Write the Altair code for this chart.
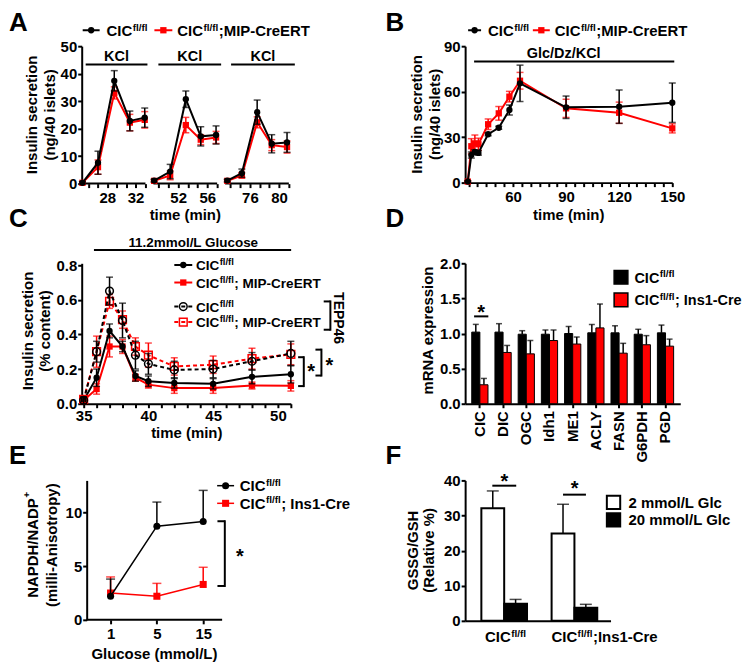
import altair as alt
import pandas as pd

FONT = "Liberation Sans"
RED = "#ff0000"
BLK = "#000000"

# ---------------- Data ----------------
# Panel A: KCl pulses, three time windows (time in min, insulin ng/40 islets)
a_time_1 = [24.5, 26.7, 29.0, 31.2, 33.3]
a_time_2 = [48.7, 50.9, 53.05, 55.1, 57.2]
a_time_3 = [72.9, 74.9, 77.0, 79.0, 81.1]
a_window_start = [24.4, 48.6, 72.6]
a_window_end = [33.4, 57.35, 81.35]
a_ctrl_1 = [0.3, 7.6, 37.4, 22.8, 24.0]
a_ctrl_2 = [1.1, 4.4, 30.7, 17.2, 17.7]
a_ctrl_3 = [1.1, 3.8, 26.0, 14.5, 15.0]
a_ctrl_sem_1 = [0.4, 4.2, 3.7, 3.6, 3.5]
a_ctrl_sem_2 = [0.5, 2.6, 3.0, 3.5, 3.3]
a_ctrl_sem_3 = [0.5, 1.5, 4.4, 3.3, 3.6]
a_ko_1 = [0.3, 6.0, 33.0, 22.2, 23.2]
a_ko_2 = [1.0, 3.0, 21.3, 16.0, 16.8]
a_ko_3 = [1.0, 3.0, 22.3, 14.0, 13.3]
a_ko_sem_1 = [0.4, 2.6, 2.2, 3.0, 3.0]
a_ko_sem_2 = [0.4, 1.6, 2.8, 1.8, 2.2]
a_ko_sem_3 = [0.4, 1.0, 2.0, 2.0, 2.2]
a_ticks = [25.33, 26.67, 28, 29.33, 30.67, 32, 33.33,
           49.33, 50.67, 52, 53.33, 54.67, 56, 57.33,
           73.33, 74.67, 76, 77.33, 78.67, 80, 81.33]
a_tick_labels = [28, 32, 52, 56, 76, 80]
a_yticks = [0, 10, 20, 30, 40, 50]

# Panel B: Glc/Dz/KCl
b_time = [34.5, 36.5, 38.5, 40.5, 46, 52, 58, 64, 90, 120, 150]
b_ctrl = [0.7, 18.2, 20.2, 19.6, 31.9, 36.2, 47.9, 65.5, 49.7, 50.1, 52.7]
b_ctrl_sem = [0.5, 2.0, 1.5, 1.5, 1.0, 1.0, 3.3, 12.0, 7.4, 11.0, 13.0]
b_ko = [0.7, 24.0, 25.9, 25.3, 38.5, 45.7, 56.7, 67.2, 49.0, 46.1, 35.8]
b_ko_sem = [0.5, 5.0, 5.5, 4.0, 3.5, 4.5, 3.5, 5.5, 6.0, 7.0, 3.0]
b_ticks = list(range(35, 151, 5))
b_yticks = [0, 30, 60, 90]

# Panel C: 11.2 mmol/L glucose, +/- TEPP46 (% content)
c_time = [35, 36, 37, 38, 39, 40, 42, 45, 48, 51]
c_ctrl = [0.02, 0.15, 0.42, 0.33, 0.16, 0.13, 0.12, 0.115, 0.155, 0.17]
c_ctrl_sem = [0.02, 0.05, 0.04, 0.03, 0.03, 0.03, 0.03, 0.03, 0.04, 0.05]
c_ko = [0.02, 0.085, 0.33, 0.33, 0.15, 0.11, 0.09, 0.09, 0.105, 0.103]
c_ko_sem = [0.02, 0.03, 0.06, 0.04, 0.02, 0.02, 0.03, 0.03, 0.02, 0.03]
c_ctrl_tepp = [0.02, 0.30, 0.65, 0.48, 0.28, 0.23, 0.195, 0.20, 0.245, 0.29]
c_ctrl_tepp_sem = [0.02, 0.06, 0.08, 0.10, 0.08, 0.06, 0.05, 0.05, 0.05, 0.07]
c_ko_tepp = [0.025, 0.30, 0.59, 0.485, 0.33, 0.28, 0.215, 0.225, 0.26, 0.285]
c_ko_tepp_sem = [0.02, 0.09, 0.04, 0.05, 0.05, 0.07, 0.05, 0.05, 0.06, 0.06]
c_ticks = list(range(35, 52, 1))
c_yticks = [0, 0.2, 0.4, 0.6, 0.8]

# Panel D: mRNA expression
d_genes = ["CIC", "DIC", "OGC", "Idh1", "ME1", "ACLY", "FASN", "G6PDH", "PGD"]
d_ctrl = [1.02, 1.02, 0.99, 0.99, 1.00, 1.01, 1.01, 0.99, 1.01]
d_ctrl_sem = [0.11, 0.12, 0.05, 0.06, 0.10, 0.12, 0.10, 0.07, 0.11]
d_ko = [0.27, 0.73, 0.71, 0.90, 0.85, 1.08, 0.72, 0.84, 0.82]
d_ko_sem = [0.09, 0.10, 0.19, 0.15, 0.10, 0.34, 0.14, 0.13, 0.10]
d_yticks = [0, 0.5, 1.0, 1.5, 2.0]

# Panel E: NADPH/NADP+
e_glucose = ["1", "5", "15"]
e_ctrl = [2.2, 8.73, 9.17]
e_ctrl_sem = [1.6, 2.25, 2.9]
e_ko = [2.5, 2.2, 3.3]
e_ko_sem = [1.5, 1.2, 1.6]
e_yticks = [0, 5, 10]

# Panel F: GSSG/GSH
f_genotypes = ["ctrl", "ko"]
f_glucose = ["2 mmol/L Glc", "20 mmol/L Glc"]
f_low = [32.1, 24.9]
f_low_sem = [4.9, 8.3]
f_high = [4.9, 3.7]
f_high_sem = [1.2, 1.0]
f_yticks = [0, 10, 20, 30, 40]

# ---------------- helpers ----------------
DUMMY = pd.DataFrame({"d": [0]})
AW = {" ": 278, "(": 333, ")": 333, "+": 584, "-": 333, ".": 278, "/": 278, ";": 333, "%": 889,
      "A": 722, "C": 722, "D": 722, "E": 667, "G": 778, "H": 722, "I": 278, "K": 722, "L": 611,
      "M": 833, "N": 722, "P": 667, "R": 722, "S": 667, "T": 611,
      "a": 556, "c": 556, "e": 556, "f": 333, "i": 278, "l": 278, "m": 889, "n": 611, "o": 611,
      "r": 389, "s": 556, "t": 333, "u": 611, "v": 556, "y": 556, "p": 611}


def tw(s, size):
    return sum(AW.get(ch, 556) for ch in s) * size / 1000.0


def T(text, x, y, size=15, align="left", baseline="alphabetic", angle=0, color=BLK):
    return alt.Chart(DUMMY).mark_text(
        text=text, font=FONT, fontSize=size, fontWeight="bold", align=align,
        baseline=baseline, angle=angle, color=color
    ).encode(x=alt.value(x), y=alt.value(y))


def HR(x1, x2, y, w=2, color=BLK, dash=None):
    kw = dict(color=color, strokeWidth=w)
    if dash:
        kw["strokeDash"] = dash
    return alt.Chart(DUMMY).mark_rule(**kw).encode(x=alt.value(x1), x2=alt.value(x2), y=alt.value(y))


def VR(x, y1, y2, w=2, color=BLK):
    return alt.Chart(DUMMY).mark_rule(color=color, strokeWidth=w).encode(
        x=alt.value(x), y=alt.value(y1), y2=alt.value(y2))


def SYM(x, y, shape, color, filled=True, size=40):
    return alt.Chart(DUMMY).mark_point(
        shape=shape, filled=filled, size=size, color=color, opacity=1, strokeWidth=1.5
    ).encode(x=alt.value(x), y=alt.value(y))


def BOX(x, y, fill, size=190, sw=1.5):
    return alt.Chart(DUMMY).mark_square(
        size=size, fill=fill, stroke=BLK, strokeWidth=sw, opacity=1
    ).encode(x=alt.value(x), y=alt.value(y))


def STAR(cx, cy, size=20):
    return T("*", cx, cy + 0.55 * size, size=size, align="center")


def parts(x, yb, items, size=15, sup=10, rise=5.5):
    out = []
    cx = x
    for txt, is_sup in items:
        fs = sup if is_sup else size
        out.append(T(txt, cx, yb - rise if is_sup else yb, size=fs))
        cx += tw(txt, fs) + 0.4
    return out


def bracket_left(x, y1, y2, xl):
    return [VR(x, y1 - 1, y2 + 1), HR(xl, x, y1), HR(xl, x, y2)]


def mkdf(t, v, e):
    return pd.DataFrame({"t": t, "v": v,
                         "lo": [a - b for a, b in zip(v, e)],
                         "hi": [a + b for a, b in zip(v, e)]})


def series(df, X, Y, color, shape, filled=True, size=40, dash=None, cap=7,
           updown=True, lw=2, detail=None):
    b = alt.Chart(df)
    out = [b.mark_rule(color=color, strokeWidth=1.5).encode(
        x=X("t"), y=Y("lo" if updown else "v"), y2="hi:Q"),
        b.mark_tick(orient="horizontal", color=color, size=cap, thickness=1.5).encode(
            x=X("t"), y=Y("hi"))]
    if updown:
        out.append(b.mark_tick(orient="horizontal", color=color, size=cap, thickness=1.5).encode(
            x=X("t"), y=Y("lo")))
    lk = dict(color=color, strokeWidth=lw)
    if dash:
        lk["strokeDash"] = dash
    enc = dict(x=X("t"), y=Y("v"))
    if detail:
        enc["detail"] = detail
    out.append(b.mark_line(**lk).encode(**enc))
    out.append(b.mark_point(shape=shape, filled=filled, size=size, color=color,
                            opacity=1, strokeWidth=1.5).encode(x=X("t"), y=Y("v")))
    return out


CIC = [("CIC", False), ("fl/fl", True)]
TS = 15  # axis title size

# ---------------- Panel A ----------------
AWID, AHT = 208, 138
a_pieces = [v for s, e in zip(a_window_start, a_window_end) for v in (s, e)]
a_xscale = alt.Scale(domain=a_pieces, range=[0, 64, 72, 136, 144, 208], nice=False, zero=False)
A_LBL = "indexof(" + str(a_tick_labels) + ", datum.value) >= 0 ? '' + datum.value : ''"


def AX(f):
    return alt.X(f"{f}:Q", scale=a_xscale,
                 axis=alt.Axis(values=a_ticks, labelExpr=A_LBL, domain=False, title=None))


def AY(f):
    return alt.Y(f"{f}:Q", scale=alt.Scale(domain=[0, 50], nice=False),
                 axis=alt.Axis(values=a_yticks, title=None))


dfA_ctrl = pd.concat([
    mkdf(a_time_1, a_ctrl_1, a_ctrl_sem_1).assign(seg=1),
    mkdf(a_time_2, a_ctrl_2, a_ctrl_sem_2).assign(seg=2),
    mkdf(a_time_3, a_ctrl_3, a_ctrl_sem_3).assign(seg=3)])
dfA_ko = pd.concat([
    mkdf(a_time_1, a_ko_1, a_ko_sem_1).assign(seg=1),
    mkdf(a_time_2, a_ko_2, a_ko_sem_2).assign(seg=2),
    mkdf(a_time_3, a_ko_3, a_ko_sem_3).assign(seg=3)])
dfA_win = pd.DataFrame({"s": a_window_start, "e": a_window_end})

a_layers = [
    alt.Chart(DUMMY).mark_square(size=1, opacity=0).encode(x=alt.value(-73.5), y=alt.value(-36.5)),
    T("A", -73, -15, size=26),
    alt.Chart(dfA_win).mark_rule(color=BLK, strokeWidth=2).encode(x=AX("s"), x2="e:Q", y=alt.value(AHT)),
    HR(1, 18, -16), SYM(9.5, -16, "circle", BLK),
    *parts(25, -10, CIC),
    HR(73, 91, -16, color=RED), SYM(82, -16, "square", RED),
    *parts(96, -10, CIC + [(";MIP-CreERT", False)]),
    HR(4, 66, 18.3), HR(77, 140, 18.3), HR(150, 214, 18.3),
    T("KCl", 35, 15, size=14.5, align="center"),
    T("KCl", 108.5, 15, size=14.5, align="center"),
    T("KCl", 182, 15, size=14.5, align="center"),
    *series(dfA_ko, AX, AY, RED, "square", detail="seg:N"),
    *series(dfA_ctrl, AX, AY, BLK, "circle", detail="seg:N"),
    T("Insulin secretion", -50, 69, size=TS, align="center", baseline="middle", angle=270),
    T("(ng/40 islets)", -32, 69, size=TS, align="center", baseline="middle", angle=270),
    T("time (min)", 104, 175, size=TS, align="center"),
]
A = alt.layer(*a_layers).properties(width=AWID, height=AHT)

# ---------------- Panel B ----------------
BWID, BHT = 208, 137
B_LBL = "datum.value % 30 == 0 ? datum.label : ''"


def BX(f):
    return alt.X(f"{f}:Q", scale=alt.Scale(domain=[33, 150], nice=False, zero=False),
                 axis=alt.Axis(values=b_ticks, labelExpr=B_LBL, title=None))


def BY(f):
    return alt.Y(f"{f}:Q", scale=alt.Scale(domain=[0, 90], nice=False),
                 axis=alt.Axis(values=b_yticks, title=None))


dfB_ctrl = mkdf(b_time, b_ctrl, b_ctrl_sem)
dfB_ko = mkdf(b_time, b_ko, b_ko_sem)
b_layers = [
    T("B", -80, -15, size=26),
    HR(3, 16, -16), SYM(9.5, -16, "circle", BLK),
    *parts(23, -10, CIC),
    HR(68, 85, -16, color=RED), SYM(76.5, -16, "square", RED),
    *parts(90, -10, CIC + [(";MIP-CreERT", False)]),
    HR(9, 210, 15.3),
    T("Glc/Dz/KCl", 99, 12, size=14.5, align="center"),
    *series(dfB_ko, BX, BY, RED, "square"),
    *series(dfB_ctrl, BX, BY, BLK, "circle"),
    T("Insulin secretion", -48, 68.5, size=TS, align="center", baseline="middle", angle=270),
    T("(ng/40 islets)", -30, 68.5, size=TS, align="center", baseline="middle", angle=270),
    T("time (min)", 104, 175, size=TS, align="center"),
]
B = alt.layer(*b_layers).properties(width=BWID, height=BHT)

# ---------------- Panel C ----------------
CWID, CHT = 210, 141
C_LBL = "datum.value % 5 == 0 ? datum.label : ''"


def CX(f):
    return alt.X(f"{f}:Q", scale=alt.Scale(domain=[34.85, 51.0], nice=False, zero=False),
                 axis=alt.Axis(values=c_ticks, labelExpr=C_LBL, title=None, labelPadding=1))


def CY(f):
    return alt.Y(f"{f}:Q", scale=alt.Scale(domain=[0, 0.81], nice=False),
                 axis=alt.Axis(values=c_yticks, format=".1f", title=None))


CL = 13.6  # legend font in C
c_layers = [
    T("C", -73, -36, size=26),
    HR(12.3, 210.3, -13.3),
    T("11.2mmol/L Glucose", 112, -16, size=13.5, align="center"),
    *series(mkdf(c_time, c_ko, c_ko_sem), CX, CY, RED, "square"),
    *series(mkdf(c_time, c_ctrl, c_ctrl_sem), CX, CY, BLK, "circle"),
    *series(mkdf(c_time, c_ko_tepp, c_ko_tepp_sem), CX, CY, RED, "square", filled=False,
            size=60, dash=[4, 3]),
    *series(mkdf(c_time, c_ctrl_tepp, c_ctrl_tepp_sem), CX, CY, BLK, "circle", filled=False,
            size=60, dash=[4, 3]),
    HR(93, 111, 1.7), SYM(102, 1.7, "circle", BLK),
    *parts(114.7, 6.8, CIC, size=CL, sup=9.5, rise=5),
    HR(93, 111, 19.3, color=RED), SYM(102, 19.3, "square", RED),
    *parts(114.7, 24.4, CIC + [("; MIP-CreERT", False)], size=CL, sup=9.5, rise=5),
    HR(93, 111, 43.5, dash=[4, 3]), SYM(102, 43.5, "circle", BLK, filled=False, size=60),
    *parts(114.7, 48.6, CIC, size=CL, sup=9.5, rise=5),
    HR(93, 111, 59, color=RED, dash=[4, 3]), SYM(102, 59, "square", RED, filled=False, size=60),
    *parts(114.7, 64.1, CIC + [("; MIP-CreERT", False)], size=CL, sup=9.5, rise=5),
    *bracket_left(249.7, 38.3, 66.7, 243),
    T("TEPP46", 257, 55, size=14, align="center", baseline="middle", angle=90),
    *bracket_left(223, 94.3, 123.3, 217.3),
    STAR(230.3, 104),
    *bracket_left(240.7, 86.7, 112.7, 234.7),
    STAR(248.7, 97.7),
    T("Insulin secretion", -54, 68, size=TS, align="center", baseline="middle", angle=270),
    T("(% content)", -37, 68, size=TS, align="center", baseline="middle", angle=270),
    T("time (min)", 105.5, 175, size=TS, align="center"),
]
C = alt.layer(*c_layers).properties(width=CWID, height=CHT)

# ---------------- Panel D ----------------
DWID, DHT = 216, 141
dfD = pd.DataFrame({
    "gene": d_genes * 2,
    "grp": ["ctrl"] * len(d_genes) + ["ko"] * len(d_genes),
    "v": d_ctrl + d_ko,
    "hi": [a + b for a, b in zip(d_ctrl + d_ko, d_ctrl_sem + d_ko_sem)],
})
DX = alt.X("gene:N", sort=d_genes,
           scale=alt.Scale(paddingInner=0.3, paddingOuter=0.285),
           axis=alt.Axis(title=None, labelAngle=270, labelFontSize=15, labelPadding=3))
DXO = alt.XOffset("grp:N", sort=["ctrl", "ko"], scale=alt.Scale(paddingInner=0, paddingOuter=0))
DCOL = alt.Color("grp:N", scale=alt.Scale(domain=["ctrl", "ko"], range=[BLK, RED]), legend=None)


def DY(f):
    return alt.Y(f"{f}:Q", scale=alt.Scale(domain=[0, 2], nice=False),
                 axis=alt.Axis(values=d_yticks, format=".1f", title=None))


d_layers = [
    T("D", -80, -36, size=26),
    alt.Chart(dfD).mark_rule(color=BLK, strokeWidth=1.5).encode(x=DX, xOffset=DXO, y=DY("v"), y2="hi:Q"),
    alt.Chart(dfD).mark_tick(orient="horizontal", color=BLK, size=6, thickness=1.5).encode(
        x=DX, xOffset=DXO, y=DY("hi")),
    alt.Chart(dfD).mark_bar(stroke=BLK, strokeWidth=1).encode(x=DX, xOffset=DXO, y=DY("v"), color=DCOL),
    HR(9, 23.3, 53.3), STAR(16, 45),
    BOX(156.5, 14, BLK), *parts(170, 19.4, CIC, size=14.5),
    BOX(156.5, 36.7, RED), *parts(170, 42.1, CIC + [("; Ins1-Cre", False)], size=14.5),
    T("mRNA expression", -37, 67.5, size=TS, align="center", baseline="middle", angle=270),
]
D = alt.layer(*d_layers).properties(width=DWID, height=DHT)

# ---------------- Panel E ----------------
EWID, EHT = 141, 140


def EX(f):
    return alt.X(f"{f}:N", sort=e_glucose,
                 scale=alt.Scale(type="point", padding=0.516, align=0.604),
                 axis=alt.Axis(title=None, labelAngle=0, domain=False))


def EY(f):
    return alt.Y(f"{f}:Q", scale=alt.Scale(domain=[0, 13], nice=False),
                 axis=alt.Axis(values=e_yticks, title=None, offset=-5))


dfE_ctrl = pd.DataFrame({"t": e_glucose, "v": e_ctrl, "hi": [a + b for a, b in zip(e_ctrl, e_ctrl_sem)]})
dfE_ko = pd.DataFrame({"t": e_glucose, "v": e_ko, "hi": [a + b for a, b in zip(e_ko, e_ko_sem)]})
e_main = "NAPDH/NADP"
e_wm = tw(e_main, TS)
e_wp = tw("+", 10)
e_bottom = 65 + (e_wm + e_wp) / 2
e_layers = [
    T("E", -73, -16, size=26),
    HR(5, EWID, EHT),
    *series(dfE_ko, EX, EY, RED, "square", size=50, cap=9, updown=False, lw=1.5),
    *series(dfE_ctrl, EX, EY, BLK, "circle", size=50, cap=9, updown=False, lw=1.5),
    HR(136, 153, 5.3, w=1.5), SYM(144.5, 5.3, "circle", BLK, size=50),
    *parts(158.7, 10.7, CIC),
    HR(136, 153, 23, w=1.5, color=RED), SYM(144.5, 23, "square", RED, size=50),
    *parts(158.7, 28.4, CIC + [("; Ins1-Cre", False)]),
    *bracket_left(143.7, 41, 106, 136.3),
    STAR(158.7, 72),
    T(e_main, -48.7, e_bottom - e_wm / 2, size=TS, align="center", baseline="middle", angle=270),
    T("+", -54.5, e_bottom - e_wm - 0.5 - e_wp / 2, size=10, align="center", baseline="middle", angle=270),
    T("(milli-Anisotropy)", -30.3, 65, size=TS, align="center", baseline="middle", angle=270),
    T("Glucose (mmol/L)", 73, 179, size=TS, align="center"),
]
E = alt.layer(*e_layers).properties(width=EWID, height=EHT)

# ---------------- Panel F ----------------
FWID, FHT = 146, 141
dfF = pd.DataFrame({
    "geno": f_genotypes * 2,
    "glc": [f_glucose[0]] * 2 + [f_glucose[1]] * 2,
    "v": f_low + f_high,
    "hi": [a + b for a, b in zip(f_low + f_high, f_low_sem + f_high_sem)],
})
FX = alt.X("geno:N", sort=f_genotypes,
           scale=alt.Scale(paddingInner=0.35, paddingOuter=0.21, align=0.55),
           axis=alt.Axis(title=None, labels=False, ticks=False))
FXO = alt.XOffset("glc:N", sort=f_glucose, scale=alt.Scale(paddingInner=0, paddingOuter=0))
FCOL = alt.Color("glc:N", scale=alt.Scale(domain=f_glucose, range=["#ffffff", BLK]), legend=None)


def FY(f):
    return alt.Y(f"{f}:Q", scale=alt.Scale(domain=[0, 40], nice=False),
                 axis=alt.Axis(values=f_yticks, title=None))


f_layers = [
    T("F", -80, -16, size=26),
    alt.Chart(dfF).mark_rule(color=BLK, strokeWidth=1.5).encode(x=FX, xOffset=FXO, y=FY("v"), y2="hi:Q"),
    alt.Chart(dfF).mark_tick(orient="horizontal", color=BLK, size=12, thickness=1.5).encode(
        x=FX, xOffset=FXO, y=FY("hi")),
    alt.Chart(dfF).mark_bar(stroke=BLK, strokeWidth=2).encode(x=FX, xOffset=FXO, y=FY("v"), color=FCOL),
    HR(27.3, 51.3, 5.3), STAR(39.3, -3),
    HR(98.3, 121.3, 14.3), STAR(110, 3.7),
    BOX(149, 22, "#ffffff", size=180, sw=2), T(f_glucose[0], 164, 27.4, size=15),
    BOX(149, 39.7, BLK, size=180, sw=2), T(f_glucose[1], 164, 45.1, size=15),
    *parts(20, 162.4, CIC),
    *parts(86.7, 162.4, CIC + [(";Ins1-Cre", False)]),
    T("GSSG/GSH", -52.7, 70.3, size=TS, align="center", baseline="middle", angle=270),
    T("(Relative %)", -36, 70.3, size=TS, align="center", baseline="middle", angle=270),
]
F = alt.layer(*f_layers).properties(width=FWID, height=FHT)

# ---------------- assemble ----------------
chart = alt.concat(
    A, B, C, D, E, F, columns=2, spacing={"row": 77, "column": 169},
    bounds="flush", align="all"
).resolve_scale(color="independent", xOffset="independent").properties(padding=0).configure_view(
    stroke=None
).configure_axis(
    domainColor=BLK, domainWidth=2, tickColor=BLK, tickWidth=2, tickSize=4,
    labelFont=FONT, labelFontSize=15, labelFontWeight="bold", labelColor=BLK,
    grid=False, labelFlush=False, labelOverlap=False
).configure_axisX(labelPadding=3).configure_axisY(labelPadding=1)

chart.save("out.html", embed_options={"renderer": "svg", "actions": False})
